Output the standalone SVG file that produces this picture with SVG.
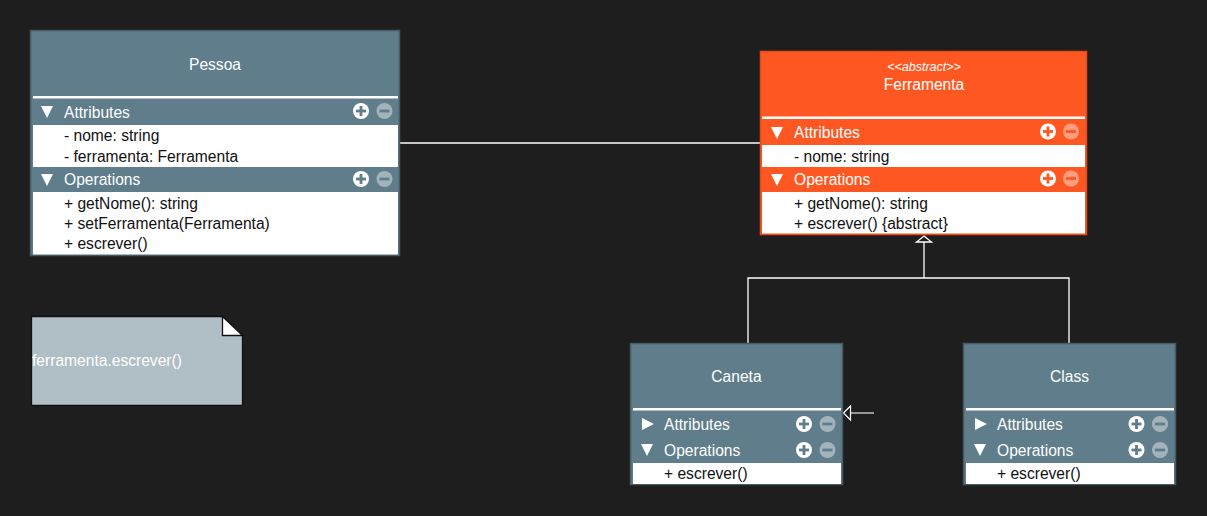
<svg xmlns="http://www.w3.org/2000/svg" width="1207" height="516" viewBox="0 0 1207 516">
<style>
text{font-family:"Liberation Sans",Arial,sans-serif;}
.t{font-size:15.6px;fill:#ffffff;}
.m{font-size:15.6px;fill:#111111;}
.ti{font-size:15.6px;fill:#ffffff;text-anchor:middle;}
.st{font-size:12.5px;fill:#ffffff;font-style:italic;text-anchor:middle;}
.row{fill:#ffffff;}
.tri{fill:#ffffff;}
.pl{fill:#ffffff;}
.mi{fill:#ffffff;fill-opacity:0.42;}
.conn{stroke:#ffffff;stroke-width:1.3;fill:none;}
</style>
<defs>
<g id="pmGrey">
<circle cx="0" cy="0" r="8" class="pl"/>
<rect x="-5" y="-1.4" width="10" height="2.8" fill="#607D8B"/>
<rect x="-1.4" y="-5" width="2.8" height="10" fill="#607D8B"/>
<circle cx="23.5" cy="0" r="8" class="mi"/>
<rect x="18.5" y="-1.4" width="10" height="2.8" fill="#607D8B"/>
</g>
<g id="pmOrange">
<circle cx="0" cy="0" r="8" class="pl"/>
<rect x="-5" y="-1.4" width="10" height="2.8" fill="#FF5722"/>
<rect x="-1.4" y="-5" width="2.8" height="10" fill="#FF5722"/>
<circle cx="23" cy="0" r="8" class="mi"/>
<rect x="18" y="-1.4" width="10" height="2.8" fill="#FF5722"/>
</g>
</defs>
<rect x="0" y="0" width="1207" height="516" fill="#1e1e1e"/>

<g id="connectors">
<line class="conn" x1="400" y1="143" x2="760" y2="143"/>
<polyline class="conn" points="748,343 748,278 1069,278 1069,343"/>
<line class="conn" x1="924" y1="278" x2="924" y2="241"/>
<polygon points="924,236 931.5,242 916.5,242" fill="#1e1e1e" stroke="#ffffff" stroke-width="1.3"/>
<line x1="850" y1="413" x2="874" y2="413" stroke="#d8d8d8" stroke-width="1.3"/>
<polygon points="843.5,413 850.5,406 850.5,420" fill="#1e1e1e" stroke="#ffffff" stroke-width="1.2"/>
</g>

<g id="pessoa">
<rect x="30.5" y="30.5" width="369" height="225" fill="#607D8B" stroke="#455A64" stroke-width="1.5"/>
<text class="ti" x="215" y="70">Pessoa</text>
<rect x="33" y="96" width="365" height="2.5" class="row"/>
<polygon class="tri" points="41,106 53,106 47,118"/>
<text class="t" x="64" y="118">Attributes</text>
<use href="#pmGrey" x="361" y="111"/>
<rect x="33" y="125" width="365" height="42" class="row"/>
<text class="m" x="64" y="140.5">- nome: string</text>
<text class="m" x="64" y="161.5">- ferramenta: Ferramenta</text>
<polygon class="tri" points="41,174 53,174 47,186"/>
<text class="t" x="64" y="185">Operations</text>
<use href="#pmGrey" x="361" y="179"/>
<rect x="33" y="192" width="365" height="62.5" class="row"/>
<text class="m" x="64" y="209">+ getNome(): string</text>
<text class="m" x="64" y="229">+ setFerramenta(Ferramenta)</text>
<text class="m" x="64" y="249">+ escrever()</text>
</g>

<g id="ferramenta">
<rect x="760.5" y="51.5" width="326" height="183" fill="#FF5722" stroke="#E64A19" stroke-width="1.5"/>
<text class="st" x="924" y="70.5">&lt;&lt;abstract&gt;&gt;</text>
<text class="ti" x="924" y="90">Ferramenta</text>
<rect x="762" y="116.5" width="323" height="2.5" class="row"/>
<polygon class="tri" points="771,127 783,127 777,139"/>
<text class="t" x="794" y="138">Attributes</text>
<use href="#pmOrange" x="1048" y="131.5"/>
<rect x="762" y="145" width="323" height="22" class="row"/>
<text class="m" x="794" y="162">- nome: string</text>
<polygon class="tri" points="771,174 783,174 777,186"/>
<text class="t" x="794" y="185">Operations</text>
<use href="#pmOrange" x="1048" y="178.5"/>
<rect x="762" y="192" width="323" height="41.5" class="row"/>
<text class="m" x="794" y="209">+ getNome(): string</text>
<text class="m" x="794" y="229">+ escrever() {abstract}</text>
</g>

<g id="caneta">
<rect x="630.5" y="343.5" width="212" height="141" fill="#607D8B" stroke="#455A64" stroke-width="1.5"/>
<text class="ti" x="736.5" y="382">Caneta</text>
<rect x="633" y="408" width="208" height="2.5" class="row"/>
<polygon class="tri" points="642,418 654,424 642,430"/>
<text class="t" x="664" y="430">Attributes</text>
<use href="#pmGrey" x="804" y="424"/>
<polygon class="tri" points="641,444 653,444 647,456"/>
<text class="t" x="664" y="455.5">Operations</text>
<use href="#pmGrey" x="804" y="450"/>
<rect x="633" y="463" width="208" height="21" class="row"/>
<text class="m" x="664" y="478.5">+ escrever()</text>
</g>

<g id="class">
<rect x="963.5" y="343.5" width="212" height="141" fill="#607D8B" stroke="#455A64" stroke-width="1.5"/>
<text class="ti" x="1069.5" y="382">Class</text>
<rect x="966" y="408" width="208" height="2.5" class="row"/>
<polygon class="tri" points="975,418 987,424 975,430"/>
<text class="t" x="997" y="430">Attributes</text>
<use href="#pmGrey" x="1136.5" y="424"/>
<polygon class="tri" points="974,444 986,444 980,456"/>
<text class="t" x="997" y="455.5">Operations</text>
<use href="#pmGrey" x="1136.5" y="450"/>
<rect x="966" y="463" width="208" height="21" class="row"/>
<text class="m" x="997" y="478.5">+ escrever()</text>
</g>

<g id="note">
<path d="M31.5,316.5 H222.5 L242.5,335.5 V405.5 H31.5 Z" fill="#B0BEC5" stroke="#111111" stroke-width="1.3"/>
<path d="M222.5,316.5 V335.5 H242.5 Z" fill="#ffffff" stroke="#111111" stroke-width="1.3"/>
<text class="t" x="32" y="366">ferramenta.escrever()</text>
</g>
</svg>
